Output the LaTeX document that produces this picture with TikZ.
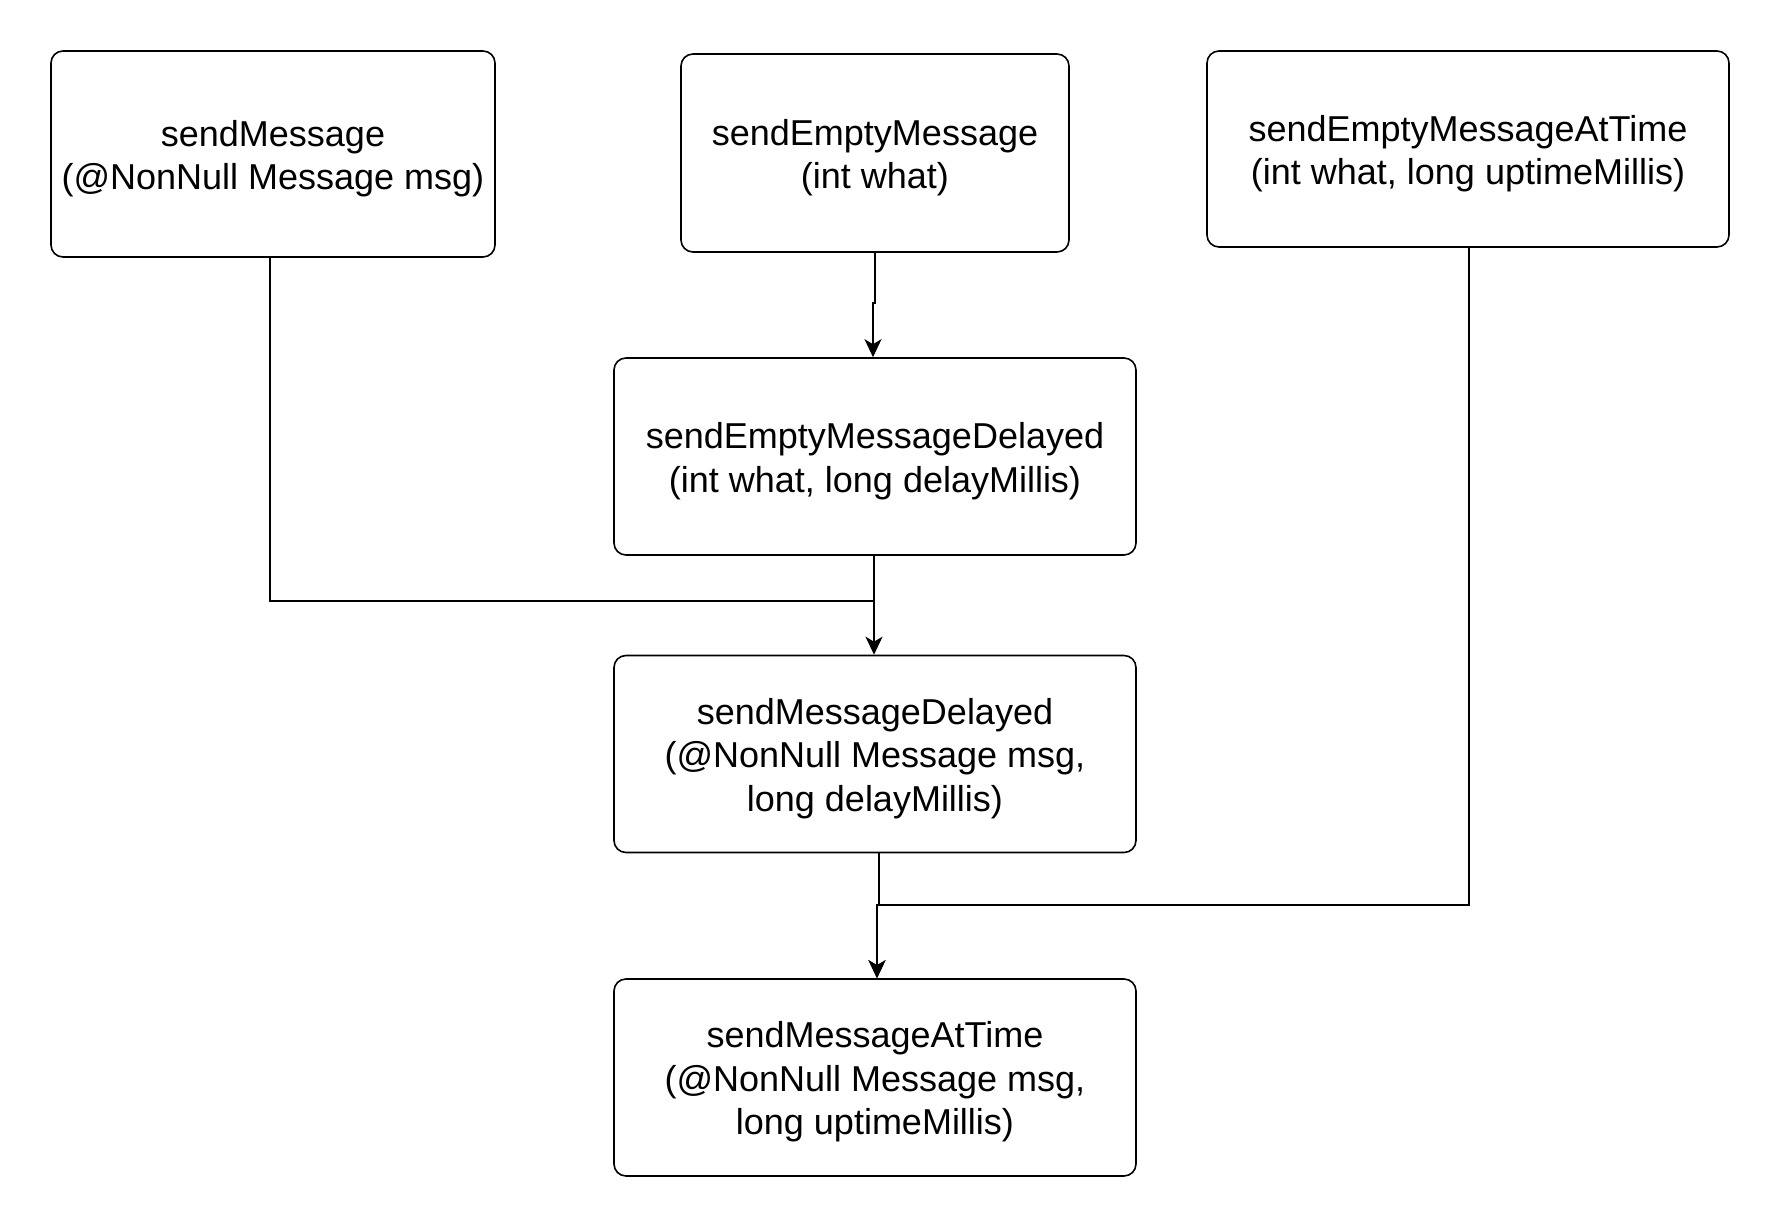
\documentclass[tikz,border=0pt]{standalone}
\usepackage{fontspec}
\setmainfont{Liberation Sans}
\usetikzlibrary{arrows.meta}
\begin{document}
\begin{tikzpicture}[x=1pt,y=-1pt,
  box/.style={draw, line width=1.6pt, rounded corners=12pt, inner sep=0pt},
  txt/.style={align=center, inner sep=0pt, yshift=-4.5pt,
    font=\fontsize{36}{43.5}\selectfont},
  conn/.style={line width=1.6pt},
  arr/.style={conn, -{Stealth[length=18pt,width=17pt,inset=5pt]}}]
\useasboundingbox[fill=white] (0,0) rectangle (1780,1228);
\node[box, minimum width=444pt, minimum height=206pt] (sm) at (273,154) {};
\node[txt] (smT) at (sm.center) {sendMessage\\(@NonNull Message msg)};
\node[box, minimum width=388pt, minimum height=198pt] (em) at (875,153) {};
\node[txt] (emT) at (em.center) {sendEmptyMessage\\(int what)};
\node[box, minimum width=522pt, minimum height=196pt] (emt) at (1468,149) {};
\node[txt] (emtT) at (emt.center) {sendEmptyMessageAtTime\\(int what, long uptimeMillis)};
\node[box, minimum width=522pt, minimum height=197pt] (dl) at (875,456.5) {};
\node[txt] (dlT) at (dl.center) {sendEmptyMessageDelayed\\(int what, long delayMillis)};
\node[box, minimum width=522pt, minimum height=197pt] (smd) at (875,754) {};
\node[txt] (smdT) at (smd.center) {sendMessageDelayed\\(@NonNull Message msg,\\long delayMillis)};
\node[box, minimum width=522pt, minimum height=197pt] (smt) at (875,1077.5) {};
\node[txt] (smtT) at (smt.center) {sendMessageAtTime\\(@NonNull Message msg,\\long uptimeMillis)};
\coordinate (j1) at (875,303);
\coordinate (j2) at (873,303);
\draw[arr] (em.south) -- (j1) -- (j2) -- (j2 |- dl.north);
\coordinate (k1) at (270,601);
\coordinate (k2) at (874,601);
\draw[conn] (dl.south -| k2) -- (k2);
\draw[arr] (sm.south -| k1) -- (k1) -- (k2) -- (k2 |- smd.north);
\coordinate (m1) at (879,905);
\coordinate (m2) at (877,905);
\coordinate (m3) at (1469,905);
\draw[arr] (smd.south -| m1) -- (m1) -- (m2) -- (m2 |- smt.north);
\draw[arr] (emt.south -| m3) -- (m3) -- (m2) -- (m2 |- smt.north);
\end{tikzpicture}
\end{document}
